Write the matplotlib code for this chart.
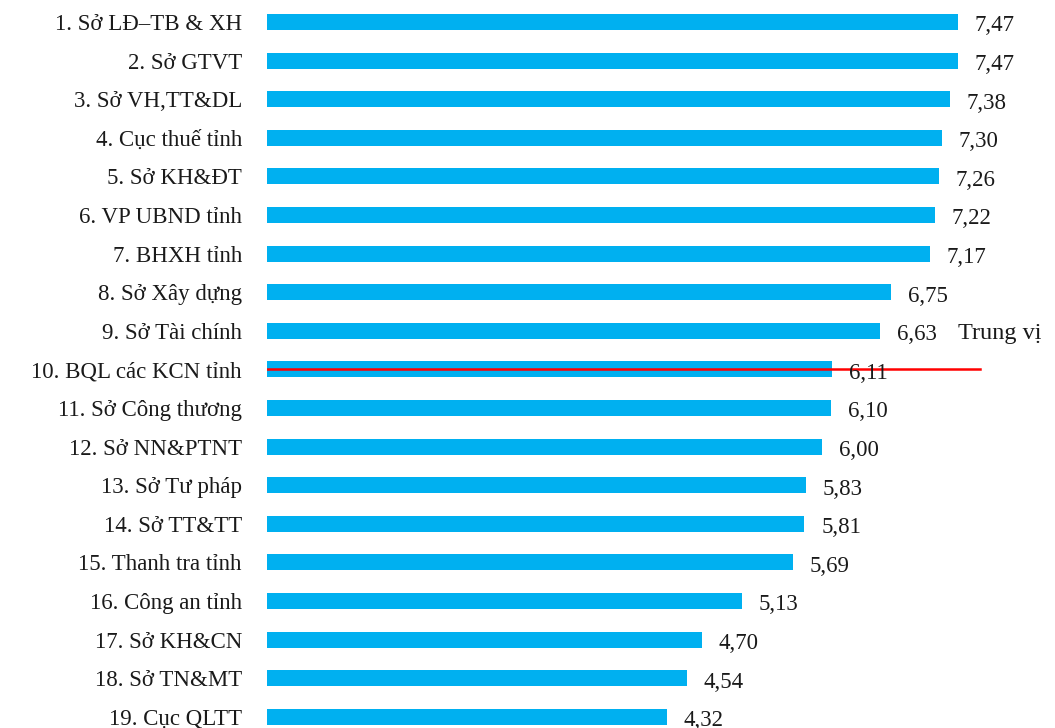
import matplotlib
matplotlib.use("Agg")
import matplotlib.pyplot as plt

plt.rcParams['font.family'] = ['Liberation Serif', 'DejaVu Serif']

labels = ["1. Sở LĐ–TB & XH", "2. Sở GTVT", "3. Sở VH,TT&DL", "4. Cục thuế tỉnh",
          "5. Sở KH&ĐT", "6. VP UBND tỉnh", "7. BHXH tỉnh", "8. Sở Xây dựng",
          "9. Sở Tài chính", "10. BQL các KCN tỉnh", "11. Sở Công thương",
          "12. Sở NN&PTNT", "13. Sở Tư pháp", "14. Sở TT&TT", "15. Thanh tra tỉnh",
          "16. Công an tỉnh", "17. Sở KH&CN", "18. Sở TN&MT", "19. Cục QLTT"]
scores = [7.47, 7.47, 7.38, 7.30, 7.26, 7.22, 7.17, 6.75, 6.63, 6.11,
          6.10, 6.00, 5.83, 5.81, 5.69, 5.13, 4.70, 4.54, 4.32]
median_row = 9
median_label = "Trung vị"

fig = plt.figure(figsize=(10.55, 7.28), dpi=100)
ax = fig.add_axes([267 / 1055, 0, 788 / 1055, 1])

ypos = list(range(len(scores)))
ax.barh(ypos, scores, height=0.41, color="#00B0F0")

for y, v in zip(ypos, scores):
    ax.text(v + 0.18, y + 0.1, f"{v:.2f}".replace(".", ","),
            va="center", ha="left", fontsize=16.5, color="#1a1a1a")

# median line through row 10
ax.plot([0, 7.71], [median_row, median_row], color="#FF0000", lw=1.8)
ax.text(7.47, median_row - 0.93, median_label, va="center", ha="left",
        fontsize=17.5, color="#1a1a1a")

ax.set_yticks(ypos)
ax.set_yticklabels(labels, fontsize=16.5, color="#1a1a1a")
ax.tick_params(axis="y", length=0, pad=18)
ax.set_xticks([])
ax.set_xlim(0, 788 / 92.5)
ax.set_ylim((728 - 22) / 38.6, -22 / 38.6)
for s in ax.spines.values():
    s.set_visible(False)

fig.savefig("out.png", dpi=100)
